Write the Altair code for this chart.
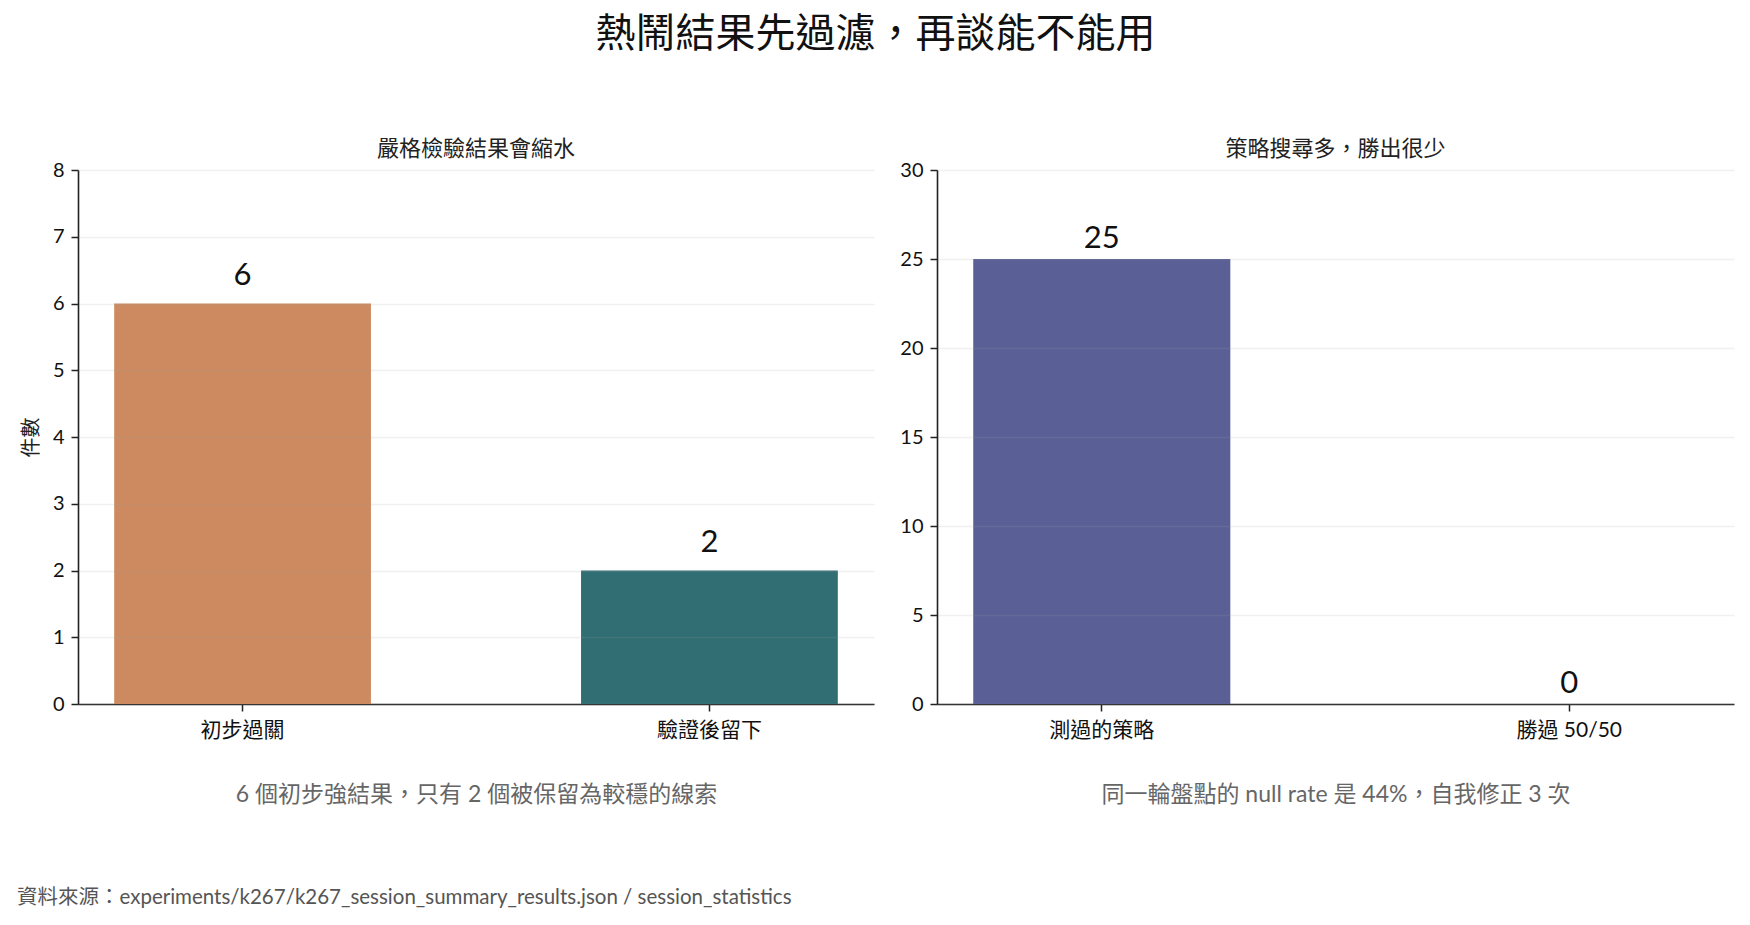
import altair as alt
import pandas as pd

FONT = "Lato, 'Noto Sans CJK TC', sans-serif"

main_title = "熱鬧結果先過濾，再談能不能用"
y_title = "件數"
source_text = "資料來源：experiments/k267/k267_session_summary_results.json / session_statistics"

left_title = "嚴格檢驗結果會縮水"
left_categories = ["初步過關", "驗證後留下"]
left_values = [6, 2]
left_colors = ["#CD8A60", "#306E73"]
left_caption = "6 個初步強結果，只有 2 個被保留為較穩的線索"
left_ticks = [0, 1, 2, 3, 4, 5, 6, 7, 8]
left_max = 8

right_title = "策略搜尋多，勝出很少"
right_categories = ["測過的策略", "勝過 50/50"]
right_values = [25, 0]
right_colors = ["#5A5F96", "#8C6D8A"]
right_caption = "同一輪盤點的 null rate 是 44%，自我修正 3 次"
right_ticks = [0, 5, 10, 15, 20, 25, 30]
right_max = 30

PLOT_H = 534


def panel(cats, vals, colors, ptitle, caption, ticks, ymax, label_gap, width, ytitle=None, with_source=False):
    df = pd.DataFrame({"cat": cats, "val": vals, "color": colors, "label": [str(v) for v in vals]})
    base = alt.Chart(df)
    x_enc = alt.X(
        "cat:N",
        sort=cats,
        scale=alt.Scale(paddingInner=0.45, paddingOuter=0.0775),
        axis=alt.Axis(
            title=caption,
            titleFontSize=23,
            titleFontWeight="normal",
            titleColor="#666666",
            titleFont=FONT,
            titleY=90,
            titleBaseline="middle",
            labelAngle=0,
            labelFontSize=21,
            labelColor="#111111",
            labelFont=FONT,
            labelPadding=8,
            tickSize=7,
            tickWidth=1.5,
            tickColor="#222222",
            domainColor="#222222",
            domainWidth=1.6,
            grid=False,
        ),
    )
    y_axis_kwargs = dict(
        values=ticks,
        format="d",
        labelFontSize=20,
        labelColor="#111111",
        labelFont=FONT,
        labelPadding=7,
        tickSize=7,
        tickWidth=1.5,
        tickColor="#222222",
        domainColor="#222222",
        domainWidth=1.6,
        grid=True,
        gridColor="#a0a0a0",
        gridOpacity=0.16,
        gridWidth=1.3,
        zindex=1,
    )
    if ytitle:
        y_axis_kwargs.update(
            title=ytitle,
            titleFontSize=20,
            titleFontWeight="normal",
            titleColor="#222222",
            titleFont=FONT,
            titleAngle=270,
            titleX=-47,
            titleY=PLOT_H / 2,
            titleAlign="center",
            titleBaseline="middle",
        )
    else:
        y_axis_kwargs.update(title=None)
    y_enc = alt.Y("val:Q", scale=alt.Scale(domain=[0, ymax], nice=False), axis=alt.Axis(**y_axis_kwargs))

    bars = base.mark_bar().encode(x=x_enc, y=y_enc, color=alt.Color("color:N", scale=None))
    labels = base.mark_text(
        baseline="alphabetic", dy=-label_gap, fontSize=31, font=FONT, color="#111111"
    ).encode(x=alt.X("cat:N", sort=cats), y=alt.Y("val:Q"), text="label:N")
    layers = [bars, labels]
    if with_source:
        src = alt.Chart(pd.DataFrame({"t": [source_text]})).mark_text(
            align="left", baseline="middle", fontSize=20.5, color="#555555", font=FONT
        ).encode(x=alt.value(-61), y=alt.value(898 - 170), text="t:N")
        layers.append(src)
    return alt.layer(*layers).properties(
        width=width,
        height=PLOT_H,
        title=alt.TitleParams(
            ptitle, fontSize=22, fontWeight="normal", color="#222222", font=FONT, offset=-1, anchor="middle"
        ),
    )


left = panel(left_categories, left_values, left_colors, left_title, left_caption,
             left_ticks, left_max, 19, 796, ytitle=y_title, with_source=True)
right = panel(right_categories, right_values, right_colors, right_title, right_caption,
              right_ticks, right_max, 11.5, 797)

chart = alt.hconcat(left, right, spacing=63, bounds="flush").properties(
    title=alt.TitleParams(main_title, fontSize=40, fontWeight="normal", color="#111111",
                          font=FONT, anchor="middle", frame="bounds", offset=83),
    padding={"left": 17, "top": 15, "right": 10, "bottom": 5},
    background="white",
).configure_view(stroke=None)

chart.save("out.html", embed_options={"renderer": "svg", "actions": False})
